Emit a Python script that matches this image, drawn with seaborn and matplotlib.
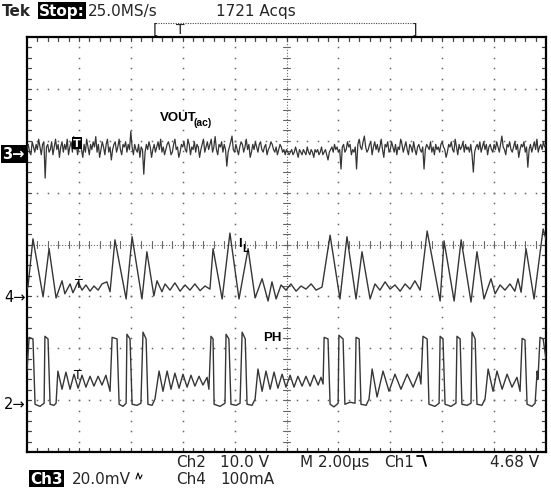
import numpy as np
import pandas as pd
import matplotlib
matplotlib.use("Agg")
import matplotlib.pyplot as plt
import seaborn as sns
from matplotlib.lines import Line2D

# ---------------- data ----------------
# Ch3 : VOUT (ac coupled), mV, one sample every 0.05 us from 0 to 20 us
vout_mv = [1, 3, 0, -1, 4, 2, 0, 3, 1, 5, 2, -1, 3, 4, -10, 2, 3, 0, 1, 4,
           -1, 2, 5, 1, 3, -2, 2, 4, 0, 3, 1, 5, -1, 2, 4, 0, 6, 1, 3, -1,
           2, 4, 1, -2, 3, 0, 5, 2, -1, 3, 1, 4, 2, 6, 0, 3, -2, 1, 4, 2,
           -1, 3, 5, 0, 2, -3, 1, 3, 4, 0, 2, 5, 1, -1, 3, 2, 4, 0, 3, 1,
           8, 2, -1, 3, 1, 0, 3, -2, 2, 1, -8.5, 0, 3, 1, 4, 2, -2, 1, 3, 0,
           2, 4, 1, 5, 0, 2, -1, 1, 3, 4, 2, -1, 0, 3, 5, 1, 2, -2, 0, 3,
           2, 4, 1, 0, 5, 3, -1, 2, 1, 4, 0, 3, 2, -2, 1, 3, 5, 0, 2, 4,
           1, 3, 5, 0, 2, 6, 1, -1, 3, 2, 4, 0, 3, 1, -5.4, 0, 2, 4, 6.2, 1,
           0, 3, 1, -1, 2, 4, 3, 0, 2, 5, 1, 3, -2, 0, 3, 1, 4, 2, 0, 3,
           4, 1, 0, 2, 3, -1, 1, 2, 4, 3, 1, 0, 2, -1, 1, 3, 2, 0, 1, -1,
           1, 0, -1, 0, 1, -1, 0, 2, 0, -2, 1, 0, -1, 1, 0, -1, 2, 0, -1, 1,
           0, -2, 1, 0, 1, -1, 0, 2, -1, 0, 1, -1, -3, 0, 1, 2, 0, 3, 1, 2,
           0, 1, -6.5, 2, 3, 0, 1, 4, 2, 3, -1, 1, 0, 2, -6.5, 3, 5, 2, 1, 4,
           6.2, 2, 0, 1, 3, 4, -1, 2, 4, 1, 3, 0, 2, 5, 1, -2, 3, 2, 4, 0,
           1, 4, 2, 0, 3, -1, 2, 1, 5, 3, 0, 2, 4, 1, -1, 3, 2, 0, 4, 1,
           -1, 2, 3, 1, 0, 2, -6.5, 1, 3, 2, 1, 4, 0, 2, -1, 3, 1, 2, 0, 3,
           4, 2, 1, -2, 0, 3, 2, 4, 1, 0, 5, 2, -1, 3, 1, 2, 4, 0, 3, 1,
           2, 0, 3, -1, -7.7, 0, 2, 3, 1, 4, 0, 2, 4, 1, 3, -1, 2, 3, 1, 0,
           3, 1, 4, 2, 0, 3, 6.2, 2, 1, -1, 3, 2, 4, 1, 0, 2, 4, 1, 3, -2,
           1, 3, 2, 4, 0, 2, -5.8, 1, 3, 0, 2, 4, 1, 5, 0, 2, 3, 1, 4, 2,
           3]
vout_dt_us = 0.05

# Ch4 : inductor current IL, vertices (us, mA)
il_t = [0, 0.04, 0.23, 0.62, 0.85, 1.12, 1.35, 1.46, 1.66, 1.77, 1.97, 2.12, 2.27, 2.43,
        2.58, 2.74, 2.89, 3.08, 3.20, 3.39, 3.82, 4.05, 4.43, 4.62, 4.89, 5.01, 5.20, 5.32,
        5.51, 5.70, 5.90, 6.09, 6.28, 6.47, 6.67, 6.86, 7.05, 7.17, 7.52, 7.82, 8.17, 8.52,
        8.79, 9.06, 9.29, 9.44, 9.60, 9.79, 9.98, 10.17, 10.37, 10.56, 10.75, 10.95, 11.14,
        11.37, 11.68, 12.06, 12.33, 12.68, 12.91, 13.22, 13.41, 13.60, 13.80, 13.99, 14.18,
        14.38, 14.57, 14.76, 14.95, 15.15, 15.42, 15.92, 16.07, 16.46, 16.73, 17.11, 17.34,
        17.61, 17.88, 18.04, 18.23, 18.42, 18.61, 18.80, 18.92, 19.04, 19.23, 19.54, 19.89, 20.0]
il_ma = [14, 20, 111, -1, 92, -3, 30, 5, 24, 7, 28, 12, 22, 10,
         20, 12, 24, 28, 9, 109, -5, 115, -5, 86, 1, 30, 9, 24,
         12, 26, 10, 22, 12, 24, 11, 20, 14, 92, -5, 122, -5, 92,
         -3, 34, -9, 28, -5, 22, 12, 24, 10, 20, 14, 24, 12,
         18, 118, -5, 115, -5, 86, -5, 24, 12, 28, 14, 22,
         10, 24, 14, 30, 12, 126, -9, 107, -9, 109, -11, 86,
         -5, 34, 5, 22, 12, 24, 10, 34, 8, 92, -5, 130, 110]

# Ch2 : phase node PH, vertices (us, V)
ph_t = [0, 0.08, 0.23, 0.31, 0.50, 0.66, 0.69, 0.81, 0.89, 1.04, 1.12,
        1.19, 1.35, 1.50, 1.66, 1.81, 1.97, 2.12, 2.27, 2.43, 2.58, 2.74, 2.89, 3.04, 3.20,
        3.28, 3.47, 3.55, 3.70, 3.82, 3.85, 3.97, 4.05, 4.24, 4.39, 4.47, 4.59, 4.66, 4.82, 4.93,
        5.09, 5.24, 5.40, 5.55, 5.70, 5.86, 6.01, 6.17, 6.32, 6.47, 6.63, 6.78, 6.94, 7.01,
        7.09, 7.17, 7.21, 7.44, 7.63, 7.67, 7.78, 7.86, 8.06, 8.21, 8.29, 8.41, 8.48, 8.67, 8.79,
        8.90, 9.06, 9.21, 9.37, 9.52, 9.67, 9.83, 9.98, 10.14, 10.29, 10.44, 10.60, 10.75,
        10.91, 11.06, 11.22, 11.33, 11.41,
        11.45, 11.60, 11.68, 11.83, 11.99, 12.02, 12.18, 12.25, 12.45, 12.64, 12.68, 12.80,
        12.87, 13.07, 13.18,
        13.30, 13.49, 13.72, 13.95, 14.18, 14.41, 14.65, 14.88, 15.11, 15.18,
        15.26, 15.42, 15.49, 15.72, 15.88, 15.92, 16.03, 16.11, 16.34, 16.53, 16.57, 16.69,
        16.76, 16.96, 17.11, 17.15, 17.27, 17.34, 17.53, 17.65,
        17.77, 17.96, 18.11, 18.31, 18.50, 18.69, 18.88, 19.00,
        19.08, 19.19, 19.27, 19.46, 19.58, 19.66, 19.69, 19.77, 19.89, 20.0]
ph_v = [5.6, 12.1, 11.8, -0.8, -1.2, -0.6, 12.3, 11.8, -0.8, -1.0, -0.6,
        5.6, 2.1, 5.4, 2.1, 5.0, 2.3, 4.8, 2.5, 4.6, 2.7, 4.6, 2.9, 4.8, 1.7,
        12.1, 11.8, -0.8, -1.2, -0.6, 12.7, 11.8, -0.8, -1.0, -0.6, 13.1, 11.8, -0.8, -1.0, 0.2,
        5.6, 1.7, 5.6, 2.1, 5.2, 2.3, 5.0, 2.5, 4.8, 2.7, 4.6, 2.9, 4.4, 2.1,
        12.3, 11.8, -0.8, -1.2, -0.6, 12.7, 11.8, -0.8, -1.0, -0.6, 13.1, 11.8, -0.8, -1.0, 0.2,
        6.0, 1.7, 5.6, 2.1, 5.4, 2.3, 5.0, 2.5, 4.8, 2.5, 4.6, 2.7, 4.6,
        2.7, 4.8, 2.9, 4.4, 3.1,
        12.1, 11.8, -0.8, -1.3, -0.6, 12.5, 11.8, -0.8, -0.4, -0.6, 12.1, 11.8,
        -0.8, -1.0, 0.2,
        6.0, 0.6, 5.6, 1.7, 5.0, 2.1, 5.0, 2.5, 5.4, 3.1,
        12.3, 11.8, -0.8, -1.2, -0.6, 12.3, 11.8, -0.8, -1.2, -0.6, 12.3, 11.8,
        -0.8, -1.0, -0.6, 13.1, 11.8, -0.8, -1.0, 0.2,
        6.0, 1.7, 5.6, 2.1, 5.0, 2.5, 4.4, 1.7,
        11.9, 11.6, -0.8, -1.2, -0.6, 5.6, 4.0, 12.1, 11.8, 7.9]

# scope settings
US_PER_DIV = 2.0
CH3_MV_PER_DIV, CH3_POS = 20.0, 5.78
CH4_MA_PER_DIV, CH4_POS = 100.0, 3.0
CH2_V_PER_DIV, CH2_POS = 10.0, 1.0

# ---------------- figure ----------------
sns.set_theme(style="white")
plt.rcParams['font.family'] = ['DejaVu Sans']

W, H = 551, 502
fig = plt.figure(figsize=(W / 100, H / 100), dpi=100)
fig.patch.set_facecolor('white')


def fx(x):
    return x / W


def fy(y):
    return 1 - y / H


L, T, R, B = 27, 38, 546, 453
ax = fig.add_axes([fx(L), fy(B), (R - L) / W, (B - T) / H])
ax.set_xlim(0, 10)
ax.set_ylim(0, 8)
ax.set_xticks([])
ax.set_yticks([])
for s in ax.spines.values():
    s.set_color('black')
    s.set_linewidth(1.6)

grid_c = '#666666'
# dotted graticule
dx, dy = [], []
minor = np.round(np.arange(1, 50) * 0.2, 3)
for k in [1, 2, 3, 4, 6, 7, 8, 9]:
    for v in minor:
        if v < 8:
            dx.append(k)
            dy.append(v)
for k in [1, 2, 3, 5, 6, 7]:
    for v in minor:
        dx.append(v)
        dy.append(k)
ax.plot(dx, dy, ls='none', marker='s', ms=1.1, mew=0, color=grid_c, zorder=1)
# centre cross
ax.axhline(4, color=grid_c, lw=0.8, ls=(0, (1, 1.6)), zorder=1)
ax.axvline(5, color=grid_c, lw=0.8, ls=(0, (1, 1.6)), zorder=1)
tk = 0.07
for v in minor:
    ax.plot([v, v], [4 - tk, 4 + tk], color=grid_c, lw=0.8, zorder=1)
    if v < 8:
        ax.plot([5 - tk, 5 + tk], [v, v], color=grid_c, lw=0.8, zorder=1)
# frame ticks
ft = 0.08
for v in minor:
    ax.plot([v, v], [8, 8 - ft], color='#444', lw=0.9, zorder=1)
    ax.plot([v, v], [0, ft], color='#444', lw=0.9, zorder=1)
    if v < 8:
        ax.plot([0, ft], [v, v], color='#444', lw=0.9, zorder=1)
        ax.plot([10, 10 - ft], [v, v], color='#444', lw=0.9, zorder=1)

# ---------------- traces ----------------
trace_c = '#363636'
vt = np.round(np.arange(len(vout_mv)) * vout_dt_us, 3)
df3 = pd.DataFrame({'x': vt / US_PER_DIV,
                    'y': CH3_POS + np.array(vout_mv) / CH3_MV_PER_DIV})
df4 = pd.DataFrame({'x': np.array(il_t) / US_PER_DIV,
                    'y': CH4_POS + np.array(il_ma) / CH4_MA_PER_DIV})
df2 = pd.DataFrame({'x': np.array(ph_t) / US_PER_DIV,
                    'y': CH2_POS + np.array(ph_v) / CH2_V_PER_DIV})
for df, lw in ((df3, 0.9), (df4, 1.0), (df2, 1.0)):
    sns.lineplot(data=df, x='x', y='y', ax=ax, color=trace_c, linewidth=lw,
                 estimator=None, sort=False, legend=False, zorder=3)
ax.set_xlabel('')
ax.set_ylabel('')
ax.set_xlim(0, 10)
ax.set_ylim(0, 8)

# trigger "T" markers on traces
fig.text(fx(73), fy(147), 'T', color='white', fontsize=8, fontweight='bold',
         va='baseline', bbox=dict(facecolor='black', edgecolor='none', pad=0.8), zorder=5)
fig.text(fx(75), fy(288), 'T', color='black', fontsize=9, va='baseline')
fig.text(fx(74), fy(379), 'T', color='black', fontsize=9, va='baseline')

# trace labels
lab = dict(family=['Liberation Sans', 'DejaVu Sans'], fontweight='bold', color='black')
fig.text(fx(160), fy(121), 'VOUT', fontsize=9.5, va='baseline', **lab)
fig.text(fx(194), fy(126), '(ac)', fontsize=7.5, va='baseline', **lab)
fig.text(fx(238), fy(247), 'I', fontsize=9.5, va='baseline', **lab)
fig.text(fx(242), fy(252), 'L', fontsize=7.5, va='baseline', **lab)
fig.text(fx(263), fy(341), 'PH', fontsize=9.5, va='baseline', **lab)

# channel ground markers
fig.text(fx(2), fy(155), '3\u2192', color='white', fontsize=10.5, fontweight='bold',
         va='center', bbox=dict(facecolor='black', edgecolor='none', pad=0.8))
fig.text(fx(4), fy(298), '4\u2192', color='black', fontsize=10.5, va='center')
fig.text(fx(4), fy(405), '2\u2192', color='black', fontsize=10.5, va='center')

# header
fs = 11
fig.text(fx(2), fy(16), 'Tek', fontsize=fs, fontweight='bold', va='baseline')
fig.text(fx(39), fy(16), 'Stop:', fontsize=fs, fontweight='bold', color='white', va='baseline',
         bbox=dict(facecolor='black', edgecolor='none', pad=1.0))
fig.text(fx(88), fy(16), '25.0MS/s', fontsize=fs, va='baseline')
fig.text(fx(216), fy(16), '1721 Acqs', fontsize=fs, va='baseline')
# record bracket
fig.text(fx(153), fy(34), '[', fontsize=10, va='baseline')
fig.text(fx(412), fy(34), ']', fontsize=10, va='baseline')
fig.add_artist(Line2D([fx(158), fx(414)], [fy(24), fy(24)], color='#444', lw=0.8,
                      ls=(0, (1, 1.2))))
fig.text(fx(176), fy(34), 'T', fontsize=10, va='baseline')

# footer
fig.text(fx(176), fy(467), 'Ch2', fontsize=fs, va='baseline')
fig.text(fx(220), fy(467), '10.0 V', fontsize=fs, va='baseline')
fig.text(fx(300), fy(467), 'M 2.00\u00b5s', fontsize=fs, va='baseline')
fig.text(fx(384), fy(467), 'Ch1', fontsize=fs, va='baseline')
fig.add_artist(Line2D([fx(417), fx(423), fx(426)], [fy(457), fy(457), fy(467)],
                      color='black', lw=1.3))
fig.text(fx(490), fy(467), '4.68 V', fontsize=fs, va='baseline')

fig.text(fx(30), fy(484), 'Ch3', fontsize=fs, fontweight='bold', color='white', va='baseline',
         bbox=dict(facecolor='black', edgecolor='none', pad=0.8))
fig.text(fx(72), fy(484), '20.0mV', fontsize=fs, va='baseline')
fig.add_artist(Line2D([fx(136), fx(138), fx(140), fx(142)],
                      [fy(480), fy(474), fy(480), fy(476)], color='black', lw=0.8))
fig.text(fx(176), fy(484), 'Ch4', fontsize=fs, va='baseline')
fig.text(fx(220), fy(484), '100mA', fontsize=fs, va='baseline')

fig.savefig('out.png', dpi=100, facecolor='white')
